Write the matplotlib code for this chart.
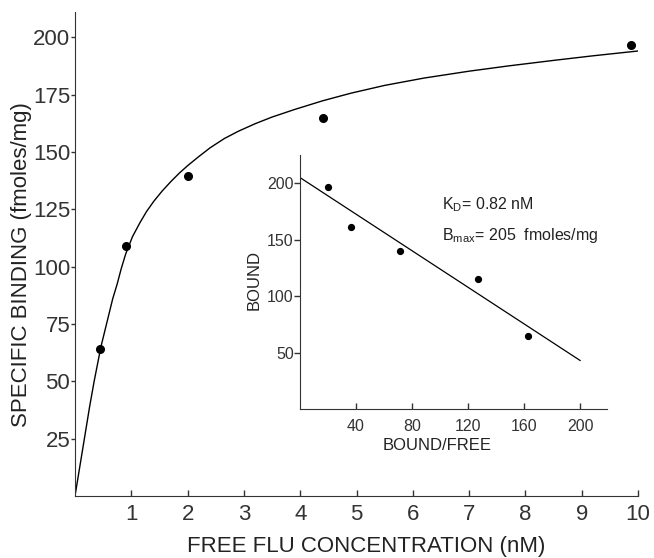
import matplotlib
matplotlib.use("Agg")
import matplotlib.pyplot as plt

plt.rcParams['font.family'] = ['Liberation Sans', 'DejaVu Sans']
plt.rcParams['mathtext.fontset'] = 'custom'
plt.rcParams['mathtext.rm'] = 'Liberation Sans'
plt.rcParams['mathtext.it'] = 'Liberation Sans'

# saturation curve
curve_x = [0, 0.08, 0.18, 0.26, 0.34, 0.46, 0.52, 0.6, 0.67, 0.75, 0.82, 0.9,
           1.02, 1.15, 1.27, 1.4, 1.55, 1.7, 1.85, 2.0, 2.2, 2.4, 2.65, 2.9,
           3.2, 3.5, 3.9, 4.4, 4.9, 5.5, 6.2, 7.0, 7.7, 8.5, 9.2, 10.0]
curve_y = [0, 12, 27, 39, 50, 65, 71, 79, 86, 92.5, 99, 105.5,
           113, 119, 124, 128.5, 133, 137, 140.7, 144, 148, 151.8, 155.8, 159,
           162.3, 165.2, 168.5, 172.3, 175.6, 179, 182.2, 185.2, 187.5, 189.9, 191.9, 194]
# measured points
conc = [0.44, 0.9, 2.0, 4.4, 9.88]
bound = [64, 109, 139.5, 165, 196.5]

# Scatchard inset
bf = [19.8, 36.2, 71.4, 127.4, 163]
bnd = [196.7, 161, 140, 115.6, 64.6]
fit_bf = [0, 200]
fit_bnd = [205, 43]

main_xticks = [1, 2, 3, 4, 5, 6, 7, 8, 9, 10]
main_yticks = [25, 50, 75, 100, 125, 150, 175, 200]
ins_xticks = [40, 80, 120, 160, 200]
ins_yticks = [50, 100, 150, 200]

axc = '#333333'
fig = plt.figure(figsize=(6.54, 5.58), dpi=100)
ax = fig.add_axes([75/654, 1-496/558, 563/654, 484/558])

ax.plot(curve_x, curve_y, color='black', lw=1.0)
ax.plot(conc, bound, 'o', color='black', ms=5.5)
ax.set_xlim(0, 10)
ax.set_ylim(0, 211)
ax.set_xticks(main_xticks)
ax.set_yticks(main_yticks)
ax.tick_params(axis='x', direction='in', length=4, width=1, pad=6, labelsize=16, colors=axc)
ax.tick_params(axis='y', direction='out', length=3, width=1, pad=0.5, labelsize=16, colors=axc)
for s in ['top', 'right']:
    ax.spines[s].set_visible(False)
for s in ['left', 'bottom']:
    ax.spines[s].set_color(axc)
ax.set_xlabel('FREE FLU CONCENTRATION (nM)', fontsize=16, color='#222222')
ax.set_ylabel('SPECIFIC BINDING (fmoles/mg)', fontsize=16, color='#222222')
ax.xaxis.set_label_coords(0.517, -0.083)
ax.yaxis.set_label_coords(-0.076, 0.479)

ins = fig.add_axes([300/654, 1-409/558, 306.7/654, 254/558])
ins.plot(fit_bf, fit_bnd, color='black', lw=0.9)
ins.plot(bf, bnd, 'o', color='black', ms=4.2)
ins.set_xlim(0, 219)
ins.set_ylim(0, 225)
ins.set_xticks(ins_xticks)
ins.set_yticks(ins_yticks)
ins.tick_params(axis='x', direction='in', length=4, width=1, pad=7, labelsize=11.5, colors=axc)
ins.tick_params(axis='y', direction='out', length=4, width=1, pad=0.5, labelsize=11.5, colors=axc)
for s in ['top', 'right']:
    ins.spines[s].set_visible(False)
for s in ['left', 'bottom']:
    ins.spines[s].set_color(axc)
ins.patch.set_alpha(0)
ins.set_xlabel('BOUND/FREE', fontsize=12, color='#222222')
ins.set_ylabel('BOUND', fontsize=12, color='#222222')
ins.xaxis.set_label_coords(0.446, -0.115)
ins.yaxis.set_label_coords(-0.125, 0.508)
ins.text(0.462, 0.803, r'K$_\mathrm{D}$= 0.82 nM', transform=ins.transAxes,
         fontsize=11.5, va='center', ha='left', color='#222222')
ins.text(0.462, 0.685, r'B$_\mathrm{max}$= 205  fmoles/mg', transform=ins.transAxes,
         fontsize=11.5, va='center', ha='left', color='#222222')

fig.savefig('out.png', dpi=100)
